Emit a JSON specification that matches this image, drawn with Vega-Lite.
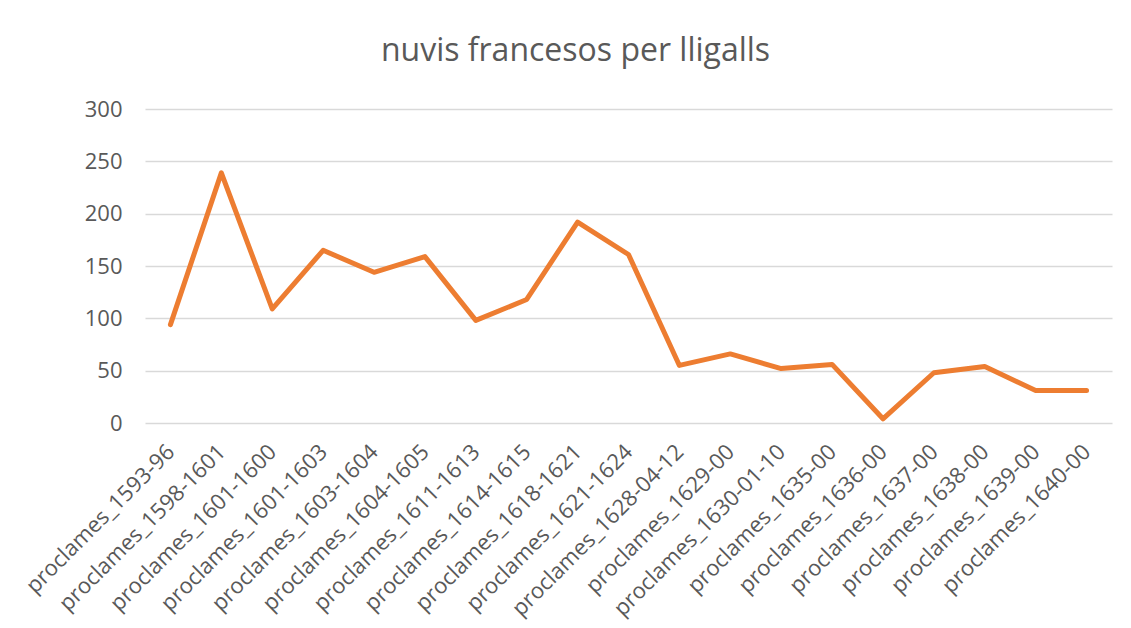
{
  "$schema": "https://vega.github.io/schema/vega-lite/v6.json",
  "autosize": {"type": "none"},
  "width": 967,
  "height": 314,
  "padding": {"left": 145, "top": 109, "right": 19, "bottom": 205},
  "background": "white",
  "title": {
    "text": "nuvis francesos per lligalls",
    "font": "Open Sans",
    "fontSize": 32,
    "fontWeight": "normal",
    "color": "#595959",
    "anchor": "middle",
    "dx": -53,
    "offset": 30
  },
  "data": {
    "values": [
      {"lligall": "proclames_1593-96", "nuvis": 94},
      {"lligall": "proclames_1598-1601", "nuvis": 239},
      {"lligall": "proclames_1601-1600", "nuvis": 109},
      {"lligall": "proclames_1601-1603", "nuvis": 165},
      {"lligall": "proclames_1603-1604", "nuvis": 144},
      {"lligall": "proclames_1604-1605", "nuvis": 159},
      {"lligall": "proclames_1611-1613", "nuvis": 98},
      {"lligall": "proclames_1614-1615", "nuvis": 118},
      {"lligall": "proclames_1618-1621", "nuvis": 192},
      {"lligall": "proclames_1621-1624", "nuvis": 161},
      {"lligall": "proclames_1628-04-12", "nuvis": 55},
      {"lligall": "proclames_1629-00", "nuvis": 66},
      {"lligall": "proclames_1630-01-10", "nuvis": 52},
      {"lligall": "proclames_1635-00", "nuvis": 56},
      {"lligall": "proclames_1636-00", "nuvis": 4},
      {"lligall": "proclames_1637-00", "nuvis": 48},
      {"lligall": "proclames_1638-00", "nuvis": 54},
      {"lligall": "proclames_1639-00", "nuvis": 31},
      {"lligall": "proclames_1640-00", "nuvis": 31}
    ]
  },
  "config": {
    "view": {"stroke": null},
    "axis": {
      "labelFont": "Open Sans",
      "labelFontSize": 22,
      "labelColor": "#595959",
      "labelLimit": 0,
      "ticks": false,
      "domain": false,
      "title": null
    }
  },
  "mark": {"type": "line", "color": "#ED7D31", "strokeWidth": 5, "strokeCap": "round", "strokeJoin": "round"},
  "encoding": {
    "x": {
      "field": "lligall",
      "type": "ordinal",
      "sort": null,
      "scale": {"type": "point", "padding": 0.5},
      "axis": {
        "labelAngle": -45,
        "labelAlign": "right",
        "labelBaseline": "middle",
        "labelPadding": 25,
        "labelOverlap": false,
        "grid": false
      }
    },
    "y": {
      "field": "nuvis",
      "type": "quantitative",
      "scale": {"domain": [0, 300], "nice": false},
      "axis": {
        "values": [0, 50, 100, 150, 200, 250, 300],
        "grid": true,
        "gridColor": "#D9D9D9",
        "gridWidth": 1.3,
        "labelPadding": 23
      }
    }
  }
}
